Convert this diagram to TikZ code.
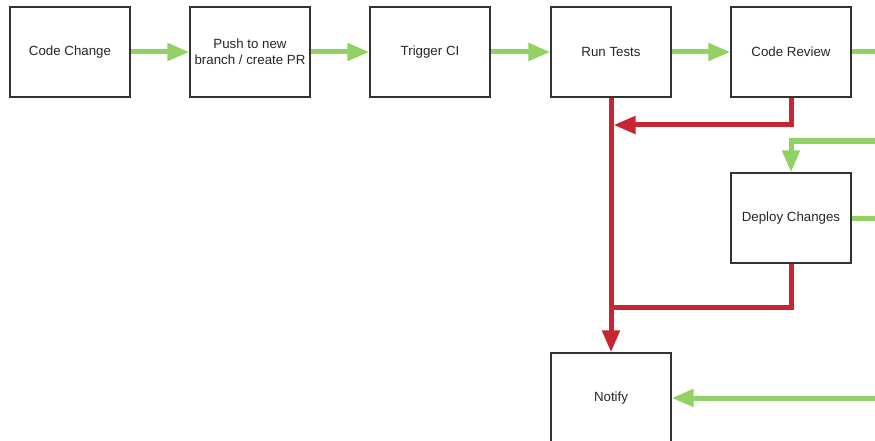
\documentclass[tikz,border=0pt]{standalone}
\usepackage{fontspec}
\setmainfont{Liberation Sans}
\usetikzlibrary{arrows.meta}
\definecolor{okgreen}{RGB}{146,210,100}
\definecolor{failred}{RGB}{197,38,48}
\definecolor{boxline}{RGB}{51,51,51}
\tikzset{
  stagebox/.style={draw=boxline, line width=1.3pt, fill=white, minimum width=120pt, minimum height=90pt, inner sep=0pt, align=center, font=\fontsize{13.3pt}{16pt}\selectfont, text=black!85},
  okline/.style={draw=okgreen, line width=5pt},
  okarrow/.style={okline, -{Triangle[length=22pt,width=17pt]}},
  failline/.style={draw=failred, line width=5pt},
  failarrow/.style={failline, -{Triangle[length=22pt,width=17pt]}}
}
\begin{document}
\begin{tikzpicture}[x=1pt,y=-1pt]
\useasboundingbox (0,0) rectangle (875,441);
\clip (0,0) rectangle (875,441);
\node[stagebox] (cc) at (70,52) {Code Change};
\node[stagebox] (push) at (250,52) {Push to new\\branch / create PR};
\node[stagebox] (ci) at (430,52) {Trigger CI};
\node[stagebox] (rt) at (611,52) {Run Tests};
\node[stagebox] (cr) at (791,52) {Code Review};
\node[stagebox] (dep) at (791,218) {Deploy Changes};
\node[stagebox] (nt) at (611,398) {Notify};
\coordinate (edge) at (875,0);
\coordinate (gin) at (875,141);
\coordinate (j1) at (613.5,125);
\coordinate (j2) at (611,307);
% green flow
\draw[okarrow] (cc.east) -- (push.west);
\draw[okarrow] (push.east) -- (ci.west);
\draw[okarrow] (ci.east) -- (rt.west);
\draw[okarrow] (rt.east) -- (cr.west);
\draw[okline] (cr.east) -- (cr.east -| edge);
\draw[okarrow] (gin) -| (dep.north);
\draw[okline] (dep.east) -- (dep.east -| edge);
\draw[okarrow] (nt.east -| edge) -- (nt.east);
% red flow
\draw[failarrow] (rt.south) -- (nt.north);
\draw[failarrow] (cr.south) |- (j1);
\draw[failline] (dep.south) |- (j2);
\end{tikzpicture}
\end{document}
